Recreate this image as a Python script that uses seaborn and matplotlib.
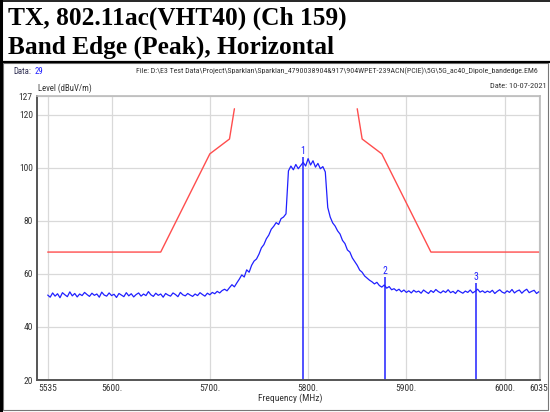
import numpy as np
import pandas as pd
import matplotlib
matplotlib.use("Agg")
import matplotlib.pyplot as plt
import seaborn as sns
from matplotlib.patches import Rectangle
from matplotlib.lines import Line2D
from matplotlib import font_manager

# ---------------- data ----------------
title_lines = ["TX, 802.11ac(VHT40) (Ch 159)", "Band Edge (Peak), Horizontal"]
data_label = "Data:"
data_number = "29"
file_text = ("File: D:\\E3 Test Data\\Project\\Sparklan\\Sparklan_4790038904&917\\"
             "904WPET-239ACN(PCIE)\\5G\\5G_ac40_Dipole_bandedge.EM6")
date_text = "Date: 10-07-2021"
y_label = "Level (dBuV/m)"
x_label = "Frequency (MHz)"

freq_start = 5535.0
freq_step = 2.5
trace_level = [
    52.0, 51.2, 52.8, 51.6, 52.5, 51.0, 52.9, 52.1, 51.4, 53.2,
    51.7, 52.6, 51.3, 52.4, 51.8, 53.0, 52.2, 51.5, 52.7, 51.9,
    52.4, 51.2, 53.1, 52.0, 51.6, 52.8, 51.8, 52.3, 51.1, 52.6,
    52.0, 51.4, 52.9, 51.7, 52.5, 51.3, 52.2, 52.8, 51.6, 52.4,
    51.8, 53.3, 52.1, 51.5, 52.7, 51.9, 52.4, 51.2, 52.6, 52.0,
    51.6, 52.8, 52.2, 51.4, 53.0, 52.1, 51.7, 52.6, 52.0, 51.5,
    52.4, 51.8, 52.9, 52.2, 51.6, 52.7, 52.1, 53.0, 52.5, 53.4,
    52.8, 53.7, 54.2, 53.6, 54.8, 55.9, 55.1, 56.6, 58.0, 59.6,
    58.8, 61.5, 60.6, 63.2, 64.8, 65.6, 67.4, 69.8, 71.0, 73.2,
    74.6, 76.8, 77.9, 79.3, 78.6, 80.8, 81.4, 82.6, 98.8, 100.6,
    99.2, 101.2, 99.6, 100.8, 102.0, 100.6, 103.4, 101.0, 102.6, 100.2,
    101.6, 99.6, 100.4, 98.4, 85.0, 81.4, 79.2, 78.0, 76.2, 75.0,
    72.6, 71.4, 69.0, 68.2, 66.0, 64.6, 63.2, 61.4, 60.6, 59.2,
    58.4, 57.6, 57.0, 56.2, 56.8, 55.6, 55.0, 55.8, 54.6, 55.2,
    54.0, 54.4, 53.6, 54.2, 53.2, 53.9, 53.0, 53.6, 52.8, 53.8,
    53.1, 53.5, 52.7, 53.9, 53.2, 52.6, 53.7, 53.0, 54.1, 53.3,
    52.8, 53.6, 53.0, 54.0, 52.9, 53.4, 52.6, 53.8, 53.2, 52.7,
    53.5, 53.0, 53.9, 52.8, 53.4, 54.2, 53.1, 53.6, 52.9, 53.5,
    53.0, 53.8, 52.6, 53.4, 54.0, 53.1, 52.7, 53.6, 53.0, 54.1,
    52.8, 53.5, 53.9, 52.7, 53.6, 54.2, 52.9, 53.4, 53.8, 52.6,
    53.3, 52.8,
]

limit_left_freq = [5535, 5650, 5700, 5720, 5725]
limit_left_level = [68.2, 68.2, 105.2, 110.8, 122.2]
limit_right_freq = [5850, 5855, 5875, 5925, 6035]
limit_right_level = [122.2, 110.8, 105.2, 68.2, 68.2]

marker_labels = ["1", "2", "3"]
marker_freq = [5794.5, 5878.3, 5970.9]
marker_level = [104.0, 58.8, 56.5]

x_ticks = [5535, 5600, 5700, 5800, 5900, 6000, 6035]
x_tick_labels = ["5535", "5600.", "5700.", "5800.", "5900.", "6000.", "6035"]
y_ticks = [20, 40, 60, 80, 100, 120, 127]
y_tick_labels = ["20", "40", "60", "80", "100", "120", "127"]

# ---------------- style ----------------
sns.set_style("white")
installed = {f.name for f in font_manager.fontManager.ttflist}
narrow = [f for f in ["Liberation Sans Narrow", "DejaVu Sans Condensed",
                      "Roboto Condensed", "Open Sans Condensed"]
          if f in installed] + ["DejaVu Sans"]
plt.rcParams["font.family"] = narrow

W, H = 550, 412
fig = plt.figure(figsize=(W / 100, H / 100), dpi=100)
fig.patch.set_facecolor("white")

def fx(px):
    return px / W

def fy(py):
    return 1 - py / H

# ---------------- axes ----------------
ax = fig.add_axes([fx(37), fy(380), fx(539.5) - fx(37), fy(96) - fy(380)])

trace_df = pd.DataFrame({
    "freq": freq_start + freq_step * np.arange(len(trace_level)),
    "level": trace_level,
})
lim_l = pd.DataFrame({"freq": limit_left_freq, "level": limit_left_level})
lim_r = pd.DataFrame({"freq": limit_right_freq, "level": limit_right_level})

red = "#ff4d4d"
blue = "#2020ff"

sns.lineplot(data=lim_l, x="freq", y="level", ax=ax, color=red, lw=1.0,
             estimator=None, sort=False)
sns.lineplot(data=lim_r, x="freq", y="level", ax=ax, color=red, lw=1.0,
             estimator=None, sort=False)
sns.lineplot(data=trace_df, x="freq", y="level", ax=ax, color=blue, lw=0.9,
             estimator=None, sort=False)

for lab, f, lv in zip(marker_labels, marker_freq, marker_level):
    ax.vlines(f, 20, lv, color=blue, lw=1.1)
    ax.annotate(lab, (f, lv), xytext=(0, 1), textcoords="offset points",
                ha="center", va="bottom", fontsize=7, color=blue)

ax.set_xlim(5524.1, 6035.5)
ax.set_ylim(20, 127)
ax.set_xticks(x_ticks)
ax.set_xticklabels(x_tick_labels)
ax.set_yticks(y_ticks)
ax.set_yticklabels(y_tick_labels)
ax.grid(True, color="#d9d9d9", lw=0.9)
ax.set_axisbelow(True)
ax.tick_params(axis="both", labelsize=6.8, colors="#333333", length=2,
               width=0.8, pad=1)
ax.set_xlabel("")
ax.set_ylabel("")
for s in ["left", "bottom"]:
    ax.spines[s].set_color("#555555")
    ax.spines[s].set_linewidth(1.4)
for s in ["top", "right"]:
    ax.spines[s].set_color("#bbbbbb")
    ax.spines[s].set_linewidth(1.2)

# ---------------- text ----------------
fig.text(fx(8), fy(18), title_lines[0], family=["Liberation Serif"],
         weight="bold", fontsize=18.3, va="center", ha="left", color="black")
fig.text(fx(8), fy(47), title_lines[1], family=["Liberation Serif"],
         weight="bold", fontsize=18.3, va="center", ha="left", color="black")

fig.text(fx(13), fy(71), data_label, fontsize=6.3, color="#333355",
         va="center", ha="left")
fig.text(fx(35), fy(71), data_number, fontsize=6.3, color="#2020ff",
         va="center", ha="left")
fig.text(fx(538), fy(71), file_text, fontsize=5.7, color="#333333",
         va="center", ha="right")
fig.text(fx(547), fy(86), date_text, fontsize=6.0, color="#333333",
         va="center", ha="right")
fig.text(fx(38), fy(88), y_label, fontsize=6.3, color="#333333",
         va="center", ha="left")
fig.text(fx(290), fy(398), x_label, fontsize=6.8, color="#333333",
         va="center", ha="center")

# ---------------- frames ----------------
fig.add_artist(Rectangle((fx(3), fy(410)), fx(548) - fx(3), fy(63) - fy(410),
                         transform=fig.transFigure, fill=False,
                         ec="#777777", lw=0.8))
fig.add_artist(Line2D([0, 1], [fy(62), fy(62)], transform=fig.transFigure,
                      color="black", lw=1.6))
fig.add_artist(Line2D([fx(1.2), fx(1.2)], [0, 1], transform=fig.transFigure,
                      color="black", lw=2.2))
fig.add_artist(Line2D([0, 1], [fy(0.6), fy(0.6)], transform=fig.transFigure,
                      color="black", lw=1.2))

fig.savefig("out.png", dpi=100)
